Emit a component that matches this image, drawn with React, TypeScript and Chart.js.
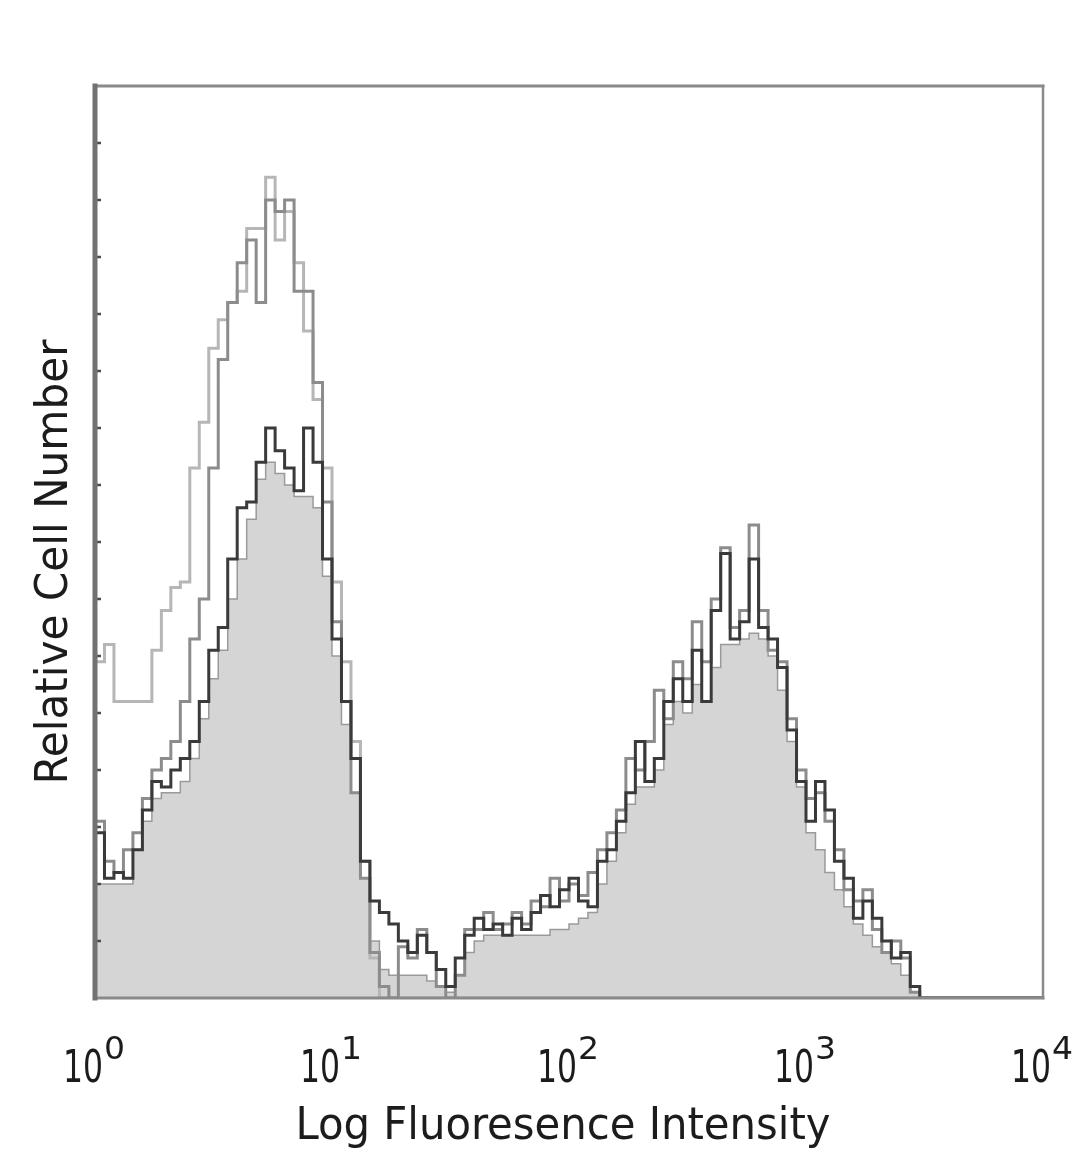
import React, { useEffect, useRef } from "react";
import { Chart, registerables } from "chart.js";

Chart.register(...registerables);

// ---- data ----
const BIN_COUNT = 100; // channels across the 4 decades
const DECADES = 4;
const X_TICK_EXPONENTS = [0, 1, 2, 3, 4];
const X_TICK_BASE = "10";
const X_TITLE = "Log Fluoresence Intensity";
const Y_TITLE = "Relative Cell Number";
const Y_MAX = 160;
const Y_TICK_STEP = 10;

// filled (stained) histogram
const filledCounts = [
  20, 20, 20, 20, 26, 31, 35, 36, 36, 38,
  42, 49, 56, 61, 70, 77, 84, 91, 94, 92,
  90, 88, 88, 86, 74, 60, 48, 36, 21, 10,
  5, 4, 4, 4, 4, 3, 2, 1, 4, 8,
  10, 11, 11, 11, 11, 11, 11, 11, 12, 12,
  13, 14, 15, 20, 24, 29, 34, 37, 37, 40,
  48, 52, 50, 55, 52, 58, 62, 62, 63, 64,
  63, 60, 54, 45, 37, 29, 26, 22, 19, 16,
  13, 11, 9, 8, 6, 4, 1, 0, 0, 0,
  0, 0, 0, 0, 0, 0, 0, 0, 0, 0,
];

// dark overlay line
const darkCounts = [
  29, 21, 22, 21, 26, 33, 38, 37, 40, 42,
  45, 52, 61, 65, 77, 86, 87, 94, 100, 96,
  93, 89, 100, 94, 77, 63, 52, 42, 24, 17,
  15, 13, 10, 8, 11, 8, 5, 2, 7, 11,
  14, 12, 13, 11, 14, 12, 15, 18, 16, 19,
  21, 17, 16, 24, 26, 31, 36, 45, 38, 42,
  52, 56, 52, 61, 52, 68, 78, 63, 66, 77,
  65, 63, 58, 47, 38, 31, 38, 33, 24, 21,
  14, 17, 14, 10, 7, 8, 2, 0, 0, 0,
  0, 0, 0, 0, 0, 0, 0, 0, 0, 0,
];

// medium grey overlay line
const midCounts = [
  31, 24, 22, 26, 29, 35, 40, 42, 45, 52,
  63, 70, 93, 112, 122, 129, 133, 122, 140, 138,
  140, 124, 124, 108, 87, 66, 52, 36, 21, 8,
  2, 0, 9, 7, 12, 8, 2, 0, 4, 12,
  12, 15, 12, 13, 15, 13, 17, 16, 21, 17,
  20, 18, 22, 26, 29, 33, 42, 40, 45, 54,
  49, 59, 56, 66, 59, 70, 79, 65, 68, 83,
  68, 61, 59, 49, 40, 35, 36, 31, 26, 19,
  17, 19, 12, 8, 10, 7, 1, 0, 0, 0,
  0, 0, 0, 0, 0, 0, 0, 0, 0, 0,
];

// light grey overlay line
const lightCounts = [
  59, 62, 52, 52, 52, 52, 61, 68, 72, 73,
  93, 101, 114, 119, 122, 124, 135, 135, 144, 133,
  138, 129, 117, 105, 93, 73, 59, 45, 24, 7,
  0, 0, 0, 0, 0, 0, 0, 0, 0, 0,
  0, 0, 0, 0, 0, 0, 0, 0, 0, 0,
  0, 0, 0, 0, 0, 0, 0, 0, 0, 0,
  0, 0, 0, 0, 0, 0, 0, 0, 0, 0,
  0, 0, 0, 0, 0, 0, 0, 0, 0, 0,
  0, 0, 0, 0, 0, 0, 0, 0, 0, 0,
  0, 0, 0, 0, 0, 0, 0, 0, 0, 0,
];

// bin left edges in fluorescence units (log-spaced channels)
const binEdges = Array.from({ length: BIN_COUNT + 1 }, (_, i) =>
  Math.pow(10, (i * DECADES) / BIN_COUNT)
);

function toPoints(arr: number[]) {
  const pts = arr.map((v, i) => ({ x: binEdges[i], y: v }));
  pts.push({ x: binEdges[BIN_COUNT], y: arr[arr.length - 1] });
  return pts;
}

const FONT_FAMILY = '"DejaVu Sans Condensed", "DejaVu Sans", sans-serif';

function fitText(
  ctx: CanvasRenderingContext2D,
  text: string,
  x: number,
  y: number,
  size: number,
  width: number,
  align: CanvasTextAlign,
  rotate = 0
) {
  ctx.save();
  ctx.font = `${size}px ${FONT_FAMILY}`;
  const w = ctx.measureText(text).width || 1;
  ctx.translate(x, y);
  if (rotate) ctx.rotate(rotate);
  ctx.scale(width / w, 1);
  ctx.textAlign = align;
  ctx.textBaseline = "alphabetic";
  ctx.fillStyle = "#1c1c1c";
  ctx.fillText(text, 0, 0);
  ctx.restore();
}

const framePlugin = {
  id: "flowFrame",
  afterDatasetsDraw(chart: any) {
    const { ctx, chartArea: a, scales } = chart;
    ctx.save();
    // inner tick marks on the left axis
    ctx.strokeStyle = "#4a4a4a";
    ctx.lineWidth = 2.5;
    for (let v = Y_TICK_STEP; v < Y_MAX; v += Y_TICK_STEP) {
      const y = scales.y.getPixelForValue(v);
      ctx.beginPath();
      ctx.moveTo(a.left, y);
      ctx.lineTo(a.left + 6, y);
      ctx.stroke();
    }
    // frame
    ctx.lineCap = "square";
    ctx.strokeStyle = "#8a8a8a";
    ctx.lineWidth = 3;
    ctx.beginPath();
    ctx.moveTo(a.left, a.top);
    ctx.lineTo(a.right, a.top);
    ctx.stroke();
    ctx.beginPath();
    ctx.moveTo(a.left, a.bottom);
    ctx.lineTo(a.right, a.bottom);
    ctx.stroke();
    ctx.lineWidth = 2.5;
    ctx.beginPath();
    ctx.moveTo(a.right, a.top);
    ctx.lineTo(a.right, a.bottom);
    ctx.stroke();
    ctx.strokeStyle = "#727272";
    ctx.lineWidth = 5;
    ctx.beginPath();
    ctx.moveTo(a.left, a.top);
    ctx.lineTo(a.left, a.bottom);
    ctx.stroke();
    ctx.restore();
  },
  afterDraw(chart: any) {
    const { ctx, chartArea: a, scales } = chart;
    // x tick labels 10^n
    X_TICK_EXPONENTS.forEach((n) => {
      const px = scales.x.getPixelForValue(Math.pow(10, n));
      fitText(ctx, X_TICK_BASE, px - 32, a.bottom + 84, 45, 40, "left");
      fitText(ctx, String(n), px + 9, a.bottom + 61, 32, 21, "left");
    });
    // x title
    const cx = (a.left + a.right) / 2 - 6;
    fitText(ctx, X_TITLE, cx, a.bottom + 141, 44, 535, "center");
    // y title
    const cy = (a.top + a.bottom) / 2 + 20;
    fitText(ctx, Y_TITLE, 67, cy, 44, 445, "center", -Math.PI / 2);
  },
};

export default function App() {
  const canvasRef = useRef<HTMLCanvasElement | null>(null);

  useEffect(() => {
    document.body.style.margin = "0";
    const canvas = canvasRef.current;
    if (!canvas) return;
    const lineBase = {
      stepped: true as const,
      pointRadius: 0,
      borderWidth: 3,
      fill: false,
    };
    const chart = new Chart(canvas, {
      type: "line",
      data: {
        datasets: [
          {
            ...lineBase,
            label: "dark",
            data: toPoints(darkCounts),
            borderColor: "#3a3a3a",
          },
          {
            ...lineBase,
            label: "medium",
            data: toPoints(midCounts),
            borderColor: "#8c8c8c",
          },
          {
            ...lineBase,
            label: "light",
            data: toPoints(lightCounts),
            borderColor: "#b6b6b6",
          },
          {
            ...lineBase,
            label: "stained",
            data: toPoints(filledCounts),
            borderColor: "#9a9a9a",
            borderWidth: 1.5,
            backgroundColor: "#d5d5d5",
            fill: "origin",
          },
        ],
      },
      options: {
        responsive: false,
        animation: false,
        devicePixelRatio: 1,
        layout: { padding: { left: 95, top: 86, right: 37, bottom: 171 } },
        scales: {
          x: { type: "logarithmic", min: 1, max: 10000, display: false },
          y: { type: "linear", min: 0, max: Y_MAX, display: false },
        },
        plugins: {
          legend: { display: false },
          tooltip: { enabled: false },
          filler: { propagate: false, drawTime: "beforeDatasetsDraw" },
        },
      } as any,
      plugins: [framePlugin],
    });
    return () => chart.destroy();
  }, []);

  return (
    <div style={{ width: 1080, height: 1169, background: "#ffffff" }}>
      <canvas
        ref={canvasRef}
        width={1080}
        height={1169}
        style={{ display: "block", width: 1080, height: 1169 }}
      />
    </div>
  );
}
